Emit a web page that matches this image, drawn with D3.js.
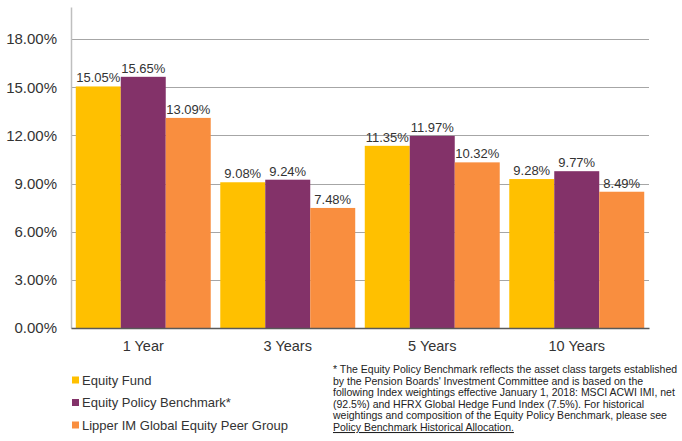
<!DOCTYPE html>
<html><head><meta charset="utf-8">
<script src="https://cdn.jsdelivr.net/npm/d3@7"></script>
<style>
body{margin:0;background:#fff;}
svg{display:block;font-family:"Liberation Sans",Arial,sans-serif;}
</style></head><body>
<svg id="c" width="682" height="441"></svg>
<script>
const categories = ["1 Year","3 Years","5 Years","10 Years"];
const seriesNames = ["Equity Fund","Equity Policy Benchmark*","Lipper IM Global Equity Peer Group"];
const equityFund = [15.05, 9.08, 11.35, 9.28];
const policyBenchmark = [15.65, 9.24, 11.97, 9.77];
const lipperPeer = [13.09, 7.48, 10.32, 8.49];
const yTicks = [0,3,6,9,12,15,18];
const colors = ["#FFC000","#833269","#F98E3F"];
const footnote = [
 "* The Equity Policy Benchmark reflects the asset class targets established",
 "by the Pension Boards' Investment Committee and is based on the",
 "following Index weightings effective January 1, 2018: MSCI ACWI IMI, net",
 "(92.5%) and HFRX Global Hedge Fund Index (7.5%). For historical",
 "weightings and composition of the Equity Policy Benchmark, please see",
 "Policy Benchmark Historical Allocation."
];
const series = [equityFund, policyBenchmark, lipperPeer];

(function(){
const svg = d3.select("#c");
const mLeft = 71, mRight = 649, mTop = 7, mBottom = 328;
const y = d3.scaleLinear().domain([0,20]).range([mBottom, mTop]);
const x0 = d3.scaleBand().domain(categories).range([mLeft, mRight]).paddingInner(0.066).paddingOuter(0.033);
const x1 = d3.scaleBand().domain(d3.range(series.length)).range([0, x0.bandwidth()]);

svg.append("g").selectAll("line").data(yTicks.filter(d=>d>0)).join("line")
  .attr("x1", mLeft).attr("x2", mRight)
  .attr("y1", d=>Math.round(y(d))+0.5).attr("y2", d=>Math.round(y(d))+0.5)
  .attr("stroke","#A6A6A6").attr("stroke-width",1.2);

const yAxis = d3.axisLeft(y).tickValues(yTicks).tickSize(0).tickPadding(14).tickFormat(d=>d3.format(".2f")(d)+"%");
const ga = svg.append("g").attr("transform",`translate(${mLeft},0)`).call(yAxis);
ga.select(".domain").attr("stroke","#BFBFBF").attr("stroke-width",1.5);
ga.selectAll("text").attr("font-size",15).attr("fill","#333").attr("font-family","Liberation Sans, Arial, sans-serif");

const groups = svg.append("g").selectAll("g").data(categories).join("g")
  .attr("transform", d=>`translate(${x0(d)},0)`);
groups.selectAll("rect").data((c,i)=>series.map((s,k)=>({k, v:s[i]}))).join("rect")
  .attr("x", d=>x1(d.k)).attr("width", x1.bandwidth())
  .attr("y", d=>y(d.v)).attr("height", d=>y(0)-y(d.v))
  .attr("fill", d=>colors[d.k]);
groups.selectAll("text").data((c,i)=>series.map((s,k)=>({k, v:s[i]}))).join("text")
  .attr("x", d=>x1(d.k)+x1.bandwidth()/2).attr("y", d=>y(d.v)-4)
  .attr("text-anchor","middle").attr("font-size",13).attr("fill","#333")
  .text(d=>d3.format(".2f")(d.v)+"%");

const xAxis = d3.axisBottom(x0).tickSize(0).tickPadding(13);
const gx = svg.append("g").attr("transform",`translate(0,${mBottom})`).call(xAxis);
gx.select(".domain").attr("stroke","#595959").attr("stroke-width",1.3);
gx.selectAll("text").attr("font-size",14.5).attr("fill","#333").attr("font-family","Liberation Sans, Arial, sans-serif");

const lg = svg.append("g").selectAll("g").data(seriesNames).join("g")
  .attr("transform",(d,i)=>`translate(72,${380+i*22.5})`);
lg.append("rect").attr("x",0).attr("y",-3.5).attr("width",7).attr("height",7).attr("fill",(d,i)=>colors[i]);
lg.append("text").attr("x",10).attr("y",0).attr("dy","0.35em").attr("font-size",13).attr("fill","#333").text(d=>d);

const fn = svg.append("g").attr("font-size",10.5).attr("fill","#222");
fn.selectAll("text").data(footnote).join("text")
  .attr("x",333).attr("y",(d,i)=>373+i*11.6)
  .attr("text-decoration",(d,i)=>i===footnote.length-1?"underline":null)
  .text(d=>d);
})();
</script>
</body></html>
